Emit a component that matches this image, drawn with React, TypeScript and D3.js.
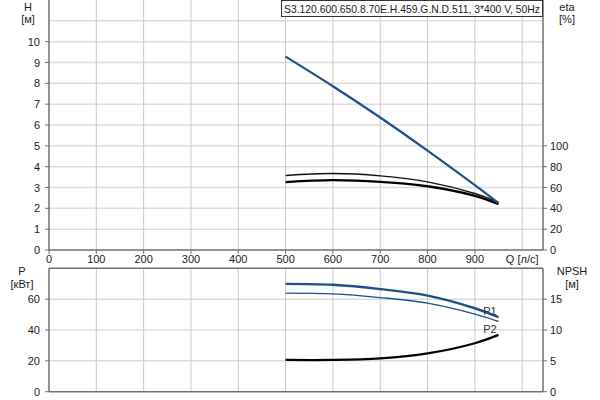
import React from "react";
import * as d3 from "d3";

const qValues = [500, 600, 700, 800, 900, 950];
const headH = [9.28, 7.86, 6.36, 4.77, 3.11, 2.25];
const etaUpper = [71.5, 73.4, 71.2, 65.4, 54.2, 45.6];
const etaLower = [65.2, 67.0, 65.4, 61.2, 52.0, 44.0];
const powerP1 = [69.9, 69.3, 66.5, 62.3, 54.1, 48.3];
const powerP2 = [63.9, 63.4, 61.0, 57.4, 50.3, 45.5];
const npsh = [5.15, 5.15, 5.4, 6.2, 7.85, 9.2];

const xTicks = [0, 100, 200, 300, 400, 500, 600, 700, 800, 900];
const xGrid = [100, 200, 300, 400, 500, 600, 700, 800, 900, 1000];
const hTicks = [0, 1, 2, 3, 4, 5, 6, 7, 8, 9, 10];
const hGrid = [1, 2, 3, 4, 5, 6, 7, 8, 9, 10, 11];
const etaTicks = [0, 20, 40, 60, 80, 100];
const pTicks = [0, 20, 40, 60];
const pGrid = [20, 40, 60];
const npshTicks = [0, 5, 10, 15];

const title = "S3.120.600.650.8.70E.H.459.G.N.D.511, 3*400 V, 50Hz";

const FONT = "'Liberation Sans', Arial, sans-serif";
const TXT = "#1a1a1a";
const AXIS = "#6e6e6e";
const BLUE = "#1f4f8a";

export default function App() {
  const L = 49, R = 543;
  const x = d3.scaleLinear().domain([0, 1044]).range([L, R]);
  const yH = d3.scaleLinear().domain([0, 12]).range([250, 0]);
  const yEta = d3.scaleLinear().domain([0, 240]).range([250, 0]);
  const yP = d3.scaleLinear().domain([0, 80]).range([391.7, 268.3]);
  const yN = d3.scaleLinear().domain([0, 20]).range([391.7, 268.3]);

  const mk = (ys: number[], sy: d3.ScaleLinear<number, number>) =>
    d3
      .line<number>()
      .x((_, i) => x(qValues[i]))
      .y((v) => sy(v))
      .curve(d3.curveCatmullRom.alpha(0.5))(ys) as string;

  const topB = 250, botB = 391.7, botT = 268.3;

  return (
    <svg width={600} height={400} style={{ position: "absolute", left: 0, top: 0, background: "#fff" }} fontFamily={FONT}>
      <rect x={0} y={0} width={600} height={400} fill="#fff" />
      {hGrid.map((v) => (
        <line key={"hg" + v} x1={L} x2={R} y1={yH(v)} y2={yH(v)} stroke="#dcdcdc" strokeWidth={1.5} />
      ))}
      {xGrid.map((v) => (
        <line key={"xg" + v} x1={x(v)} x2={x(v)} y1={0} y2={topB} stroke="#c8c8c8" strokeWidth={1} />
      ))}
      {pGrid.map((v) => (
        <line key={"pg" + v} x1={L} x2={R} y1={yP(v)} y2={yP(v)} stroke="#dcdcdc" strokeWidth={1.5} />
      ))}
      {xGrid.map((v) => (
        <line key={"xg2" + v} x1={x(v)} x2={x(v)} y1={botT} y2={botB} stroke="#c8c8c8" strokeWidth={1} />
      ))}

      <line x1={L} x2={L} y1={0} y2={topB} stroke={AXIS} strokeWidth={1.5} />
      <line x1={R} x2={R} y1={0} y2={topB} stroke={AXIS} strokeWidth={1.5} />
      <line x1={L} x2={R} y1={topB} y2={topB} stroke={AXIS} strokeWidth={1.5} />
      {hTicks.map((v) => (
        <g key={"ht" + v}>
          <line x1={L - 4} x2={L} y1={yH(v)} y2={yH(v)} stroke={AXIS} />
          <text x={L - 9} y={yH(v) + 4} fontSize={11} textAnchor="end" fill={TXT}>{v}</text>
        </g>
      ))}
      {etaTicks.map((v) => (
        <g key={"et" + v}>
          <line x1={R} x2={R + 4} y1={yEta(v)} y2={yEta(v)} stroke={AXIS} />
          <text x={R + 7} y={yEta(v) + 4} fontSize={11} fill={TXT}>{v}</text>
        </g>
      ))}
      {xTicks.map((v) => (
        <g key={"xt" + v}>
          <line x1={x(v)} x2={x(v)} y1={topB} y2={topB + 4} stroke={AXIS} />
          <text x={x(v)} y={263} fontSize={11} textAnchor="middle" fill={TXT}>{v}</text>
        </g>
      ))}
      <text x={x(1000)} y={263} fontSize={11} textAnchor="middle" fill={TXT}>Q [л/с]</text>

      <line x1={L} x2={L} y1={botT} y2={botB} stroke={AXIS} strokeWidth={1.5} />
      <line x1={R} x2={R} y1={botT} y2={botB} stroke={AXIS} strokeWidth={1.5} />
      <line x1={L} x2={R} y1={botT} y2={botT} stroke={AXIS} strokeWidth={1.5} />
      <line x1={L} x2={R} y1={botB} y2={botB} stroke={AXIS} strokeWidth={1.5} />
      {pTicks.map((v) => (
        <g key={"pt" + v}>
          <line x1={L - 4} x2={L} y1={yP(v)} y2={yP(v)} stroke={AXIS} />
          <text x={L - 9} y={yP(v) + 4} fontSize={11} textAnchor="end" fill={TXT}>{v}</text>
        </g>
      ))}
      {npshTicks.map((v) => (
        <g key={"nt" + v}>
          <line x1={R} x2={R + 4} y1={yN(v)} y2={yN(v)} stroke={AXIS} />
          <text x={R + 7} y={yN(v) + 4} fontSize={11} fill={TXT}>{v}</text>
        </g>
      ))}

      <text x={28} y={11} fontSize={11} textAnchor="middle" fill={TXT}>H</text>
      <text x={28} y={23} fontSize={11} textAnchor="middle" fill={TXT}>[м]</text>
      <text x={567} y={11} fontSize={11} textAnchor="middle" fill={TXT}>eta</text>
      <text x={567} y={23} fontSize={11} textAnchor="middle" fill={TXT}>[%]</text>
      <text x={22} y={275} fontSize={11} textAnchor="middle" fill={TXT}>P</text>
      <text x={22} y={288} fontSize={11} textAnchor="middle" fill={TXT}>[кВт]</text>
      <text x={572} y={275} fontSize={11} textAnchor="middle" fill={TXT}>NPSH</text>
      <text x={572} y={288} fontSize={11} textAnchor="middle" fill={TXT}>[м]</text>

      <path d={mk(etaUpper, yEta)} fill="none" stroke="#111" strokeWidth={1.4} />
      <path d={mk(etaLower, yEta)} fill="none" stroke="#000" strokeWidth={2.3} />
      <path d={mk(headH, yH)} fill="none" stroke={BLUE} strokeWidth={2.2} />

      <path d={mk(powerP1, yP)} fill="none" stroke={BLUE} strokeWidth={2.4} />
      <path d={mk(powerP2, yP)} fill="none" stroke={BLUE} strokeWidth={1.4} />
      <path d={mk(npsh, yN)} fill="none" stroke="#000" strokeWidth={2.3} />
      <text x={490} y={315} fontSize={11} textAnchor="middle" fill="#333">P1</text>
      <text x={490} y={333} fontSize={11} textAnchor="middle" fill="#333">P2</text>

      <rect x={281.5} y={0.5} width={261} height={16} fill="#fff" stroke="#333" strokeWidth={1} />
      <text x={284} y={12.5} fontSize={11} fill={TXT} textLength={256} lengthAdjust="spacingAndGlyphs">{title}</text>
    </svg>
  );
}
